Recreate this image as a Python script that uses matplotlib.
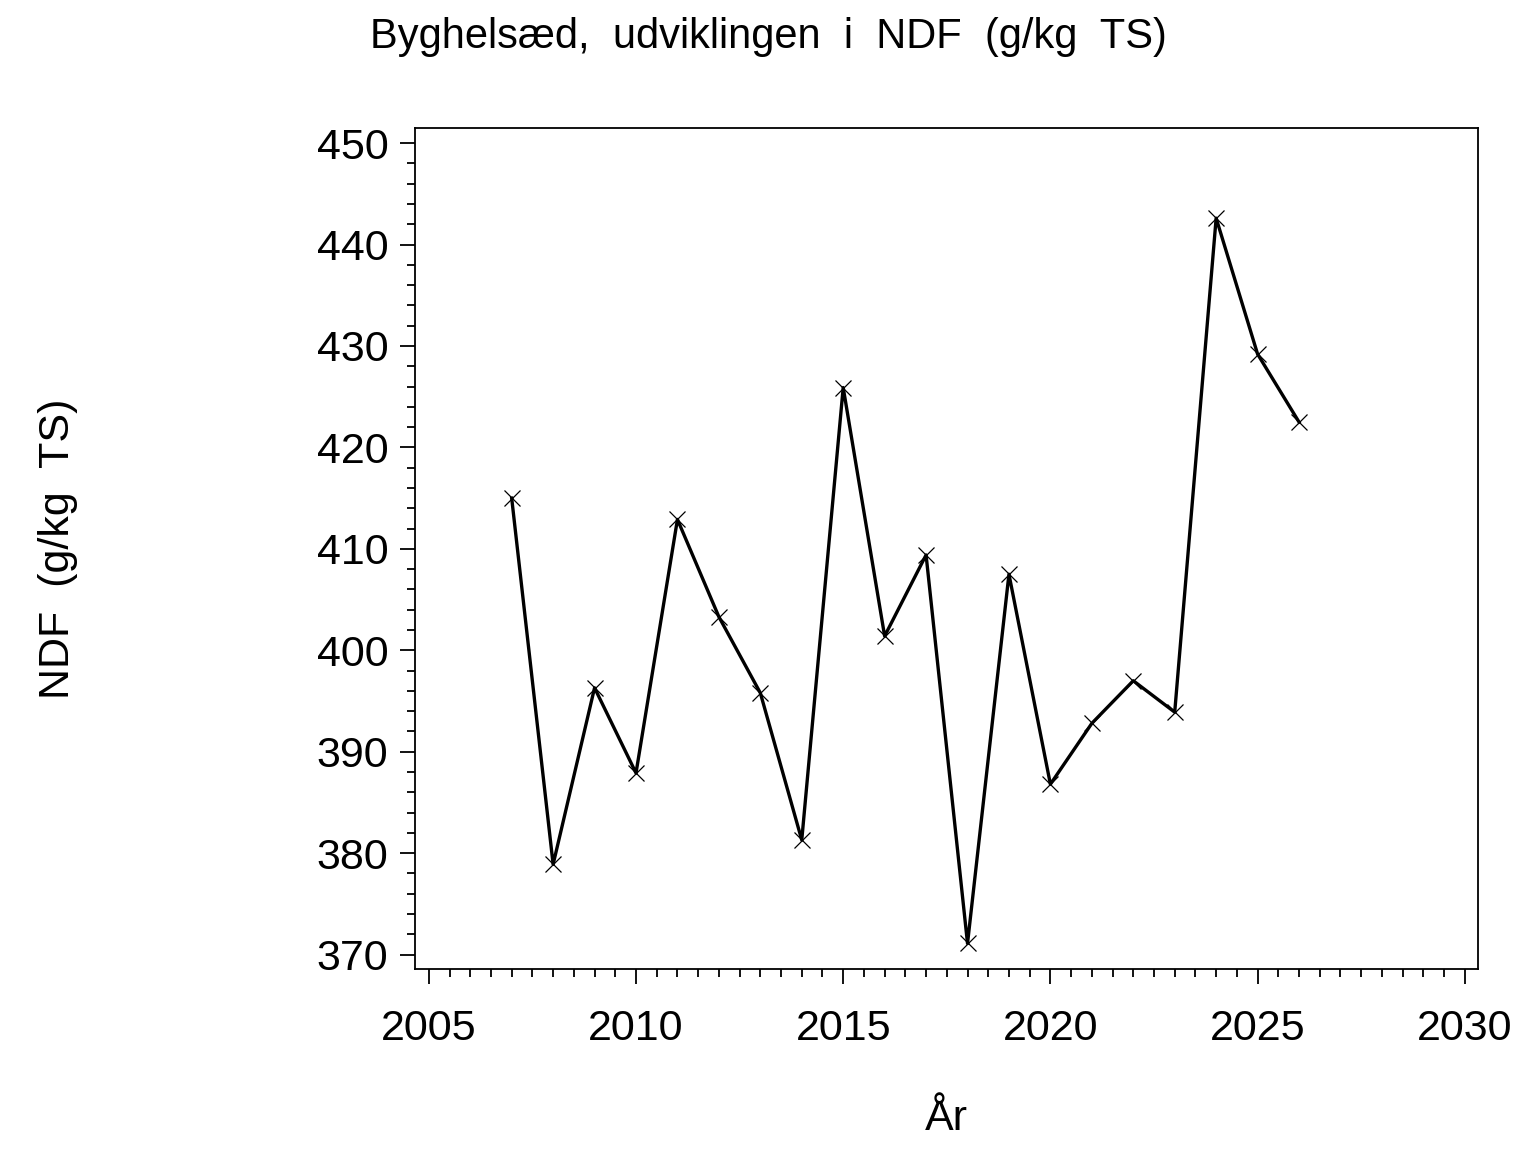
import numpy as np
import matplotlib.pyplot as plt
from matplotlib.ticker import MultipleLocator

plt.rcParams['font.family'] = ['Liberation Sans', 'DejaVu Sans']

years = [2007, 2008, 2009, 2010, 2011, 2012, 2013, 2014, 2015, 2016,
         2017, 2018, 2019, 2020, 2021, 2022, 2023, 2024, 2025, 2026]
ndf = [415.0, 378.9, 396.3, 387.9, 412.9, 403.3, 395.8, 381.3, 425.9, 401.4,
       409.4, 371.1, 407.5, 386.8, 392.8, 397.0, 393.9, 442.6, 429.2, 422.5]

fig = plt.figure(figsize=(15.36, 11.52), dpi=100)
ax = fig.add_axes([0.270, 0.159, 0.692, 0.730])

ax.plot(years, ndf, color='black', linewidth=2.4, marker='x',
        markersize=11, markeredgewidth=0.9)

ax.set_xlim(2004.66, 2030.31)
ax.set_ylim(368.6, 451.5)
ax.xaxis.set_major_locator(MultipleLocator(5))
ax.xaxis.set_minor_locator(MultipleLocator(0.5))
ax.yaxis.set_major_locator(MultipleLocator(10))
ax.yaxis.set_minor_locator(MultipleLocator(2))

ax.tick_params(which='both', direction='out', top=False, right=False,
               width=1.3, labelsize=31)
ax.tick_params(which='major', length=11)
ax.tick_params(which='minor', length=6)
ax.tick_params(axis='x', which='major', pad=18)
ax.tick_params(axis='y', which='major', pad=8)
for s in ax.spines.values():
    s.set_linewidth(1.3)

ax.set_xlabel('År', fontsize=31, labelpad=36)
ax.set_ylabel('NDF  (g/kg  TS)', fontsize=31, labelpad=172)
fig.suptitle('Byghelsæd,  udviklingen  i  NDF  (g/kg  TS)', fontsize=30,
             x=0.5, y=0.985)

fig.savefig('out.png', dpi=100)
